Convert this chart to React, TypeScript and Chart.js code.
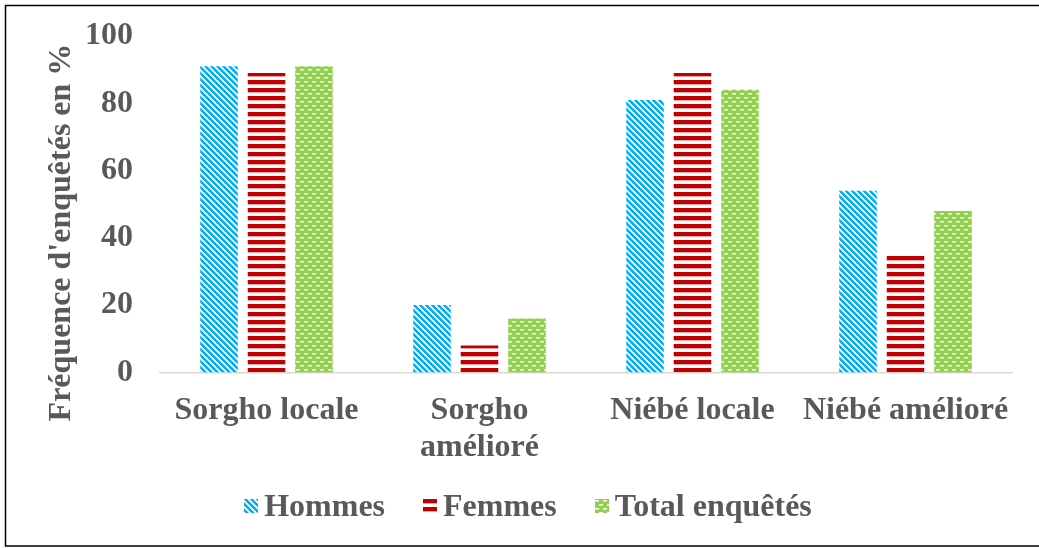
import React, { useEffect, useRef } from "react";
import { Chart, registerables } from "chart.js";

Chart.register(...registerables);

const categories: (string | string[])[] = [
  "Sorgho locale",
  ["Sorgho", "amélioré"],
  "Niébé locale",
  "Niébé amélioré",
];
const seriesNames = ["Hommes", "Femmes", "Total enquêtés"];
const hommes = [91, 20, 81, 54];
const femmes = [89, 8, 89, 35];
const totalEnquetes = [91, 16, 84, 48];
const yTickValues = [0, 20, 40, 60, 80, 100];
const yTitle = "Fréquence d'enquêtés en %";

const FONT = '"Liberation Serif", "Times New Roman", serif';
const TEXT = "#595959";
const BLUE = "#00B0F0";
const RED = "#C00000";
const GREEN = "#92D050";

type Kind = "diag" | "horiz" | "dots";

function makeTile(kind: Kind): HTMLCanvasElement {
  const c = document.createElement("canvas");
  const ctx = c.getContext("2d")!;
  if (kind === "diag") {
    const n = 6;
    c.width = n;
    c.height = n;
    ctx.fillStyle = "#ffffff";
    ctx.fillRect(0, 0, n, n);
    for (let y = 0; y < n; y++) {
      for (let x = 0; x < n; x++) {
        const d = (((x - y) % n) + n) % n;
        if (d < 3) {
          ctx.fillStyle = BLUE;
          ctx.fillRect(x, y, 1, 1);
        } else if (d === 3) {
          ctx.fillStyle = "#7fd8f8";
          ctx.fillRect(x, y, 1, 1);
        }
      }
    }
  } else if (kind === "horiz") {
    c.width = 4;
    c.height = 8;
    ctx.fillStyle = "#ffffff";
    ctx.fillRect(0, 0, 4, 8);
    ctx.fillStyle = RED;
    ctx.fillRect(0, 0, 4, 4);
    ctx.fillStyle = "#e8a0a0";
    ctx.fillRect(0, 4, 4, 1);
  } else {
    c.width = 8;
    c.height = 8;
    ctx.fillStyle = GREEN;
    ctx.fillRect(0, 0, 8, 8);
    ctx.fillStyle = "rgba(255,255,255,0.95)";
    ctx.fillRect(0, 1, 4, 1);
    ctx.fillRect(4, 5, 4, 1);
    ctx.fillStyle = "rgba(255,255,255,0.5)";
    ctx.fillRect(0, 2, 4, 1);
    ctx.fillRect(4, 6, 4, 1);
  }
  return c;
}

export default function App() {
  const ref = useRef<HTMLCanvasElement | null>(null);

  useEffect(() => {
    const canvas = ref.current;
    if (!canvas) return;
    const ctx0 = canvas.getContext("2d")!;
    const kinds: Kind[] = ["diag", "horiz", "dots"];
    const tiles = kinds.map((k) => makeTile(k));
    const patterns = tiles.map((t) => ctx0.createPattern(t, "repeat")!);

    const framePlugin = {
      id: "frame",
      afterDraw(chart: any) {
        const ctx = chart.ctx;
        ctx.save();
        ctx.strokeStyle = "#000000";
        ctx.lineWidth = 1.5;
        ctx.strokeRect(5.5, 5.5, 1040, 540.5);
        ctx.restore();
      },
    };

    const titlePlugin = {
      id: "ytitle",
      afterDraw(chart: any) {
        const ctx = chart.ctx;
        ctx.save();
        ctx.font = `bold 32px ${FONT}`;
        ctx.fillStyle = TEXT;
        ctx.translate(70, 232.5);
        ctx.rotate(-Math.PI / 2);
        ctx.textAlign = "center";
        ctx.textBaseline = "alphabetic";
        ctx.fillText(yTitle, 0, 0);
        ctx.restore();
      },
    };

    const legendPlugin = {
      id: "customLegend",
      afterDraw(chart: any) {
        const ctx = chart.ctx;
        ctx.save();
        ctx.font = `bold 32px ${FONT}`;
        const box = 14;
        const gap = 6;
        const spacing = 38;
        const widths = seriesNames.map((s) => ctx.measureText(s).width);
        const total =
          widths.reduce((a, b) => a + b, 0) +
          seriesNames.length * (box + gap) +
          (seriesNames.length - 1) * spacing;
        let x = 528 - total / 2;
        const baseline = 516;
        const boxTop = 499;
        seriesNames.forEach((name, i) => {
          ctx.save();
          ctx.translate(Math.round(x), boxTop);
          ctx.fillStyle = patterns[i];
          ctx.fillRect(0, 0, box, box);
          ctx.restore();
          ctx.fillStyle = TEXT;
          ctx.textAlign = "left";
          ctx.textBaseline = "alphabetic";
          ctx.fillText(name, x + box + gap, baseline);
          x += box + gap + widths[i] + spacing;
        });
        ctx.restore();
      },
    };

    const chart = new Chart(canvas, {
      type: "bar",
      data: {
        labels: categories,
        datasets: [
          { label: seriesNames[0], data: hommes, backgroundColor: patterns[0], borderWidth: 0 },
          { label: seriesNames[1], data: femmes, backgroundColor: patterns[1], borderWidth: 0 },
          { label: seriesNames[2], data: totalEnquetes, backgroundColor: patterns[2], borderWidth: 0 },
        ],
      },
      options: {
        responsive: false,
        animation: false,
        devicePixelRatio: 1,
        datasets: {
          bar: { categoryPercentage: 0.669, barPercentage: 0.79 },
        },
        layout: { padding: { left: 58, right: 27, top: 36, bottom: 62 } },
        plugins: {
          legend: { display: false },
          tooltip: { enabled: false },
          title: { display: false },
        },
        scales: {
          x: {
            grid: { display: false, drawTicks: false },
            border: { display: true, color: "#D9D9D9", width: 1.5 },
            ticks: {
              color: TEXT,
              padding: 20,
              maxRotation: 0,
              autoSkip: false,
              font: { family: FONT, size: 32, weight: "bold", lineHeight: 1.15 },
            },
          },
          y: {
            min: 0,
            max: 100,
            afterBuildTicks(scale: any) {
              scale.ticks = yTickValues.map((v) => ({ value: v }));
            },
            afterFit(scale: any) {
              scale.paddingTop = 0;
              scale.paddingBottom = 0;
            },
            grid: { display: false, drawTicks: false },
            border: { display: false },
            ticks: {
              color: TEXT,
              padding: 27,
              font: { family: FONT, size: 32, weight: "bold" },
            },
          },
        },
      },
      plugins: [framePlugin, titlePlugin, legendPlugin],
    } as any);

    return () => chart.destroy();
  }, []);

  return (
    <canvas
      ref={ref}
      width={1039}
      height={548}
      style={{ position: "absolute", left: 0, top: 0, width: 1039, height: 548, display: "block" }}
    />
  );
}
